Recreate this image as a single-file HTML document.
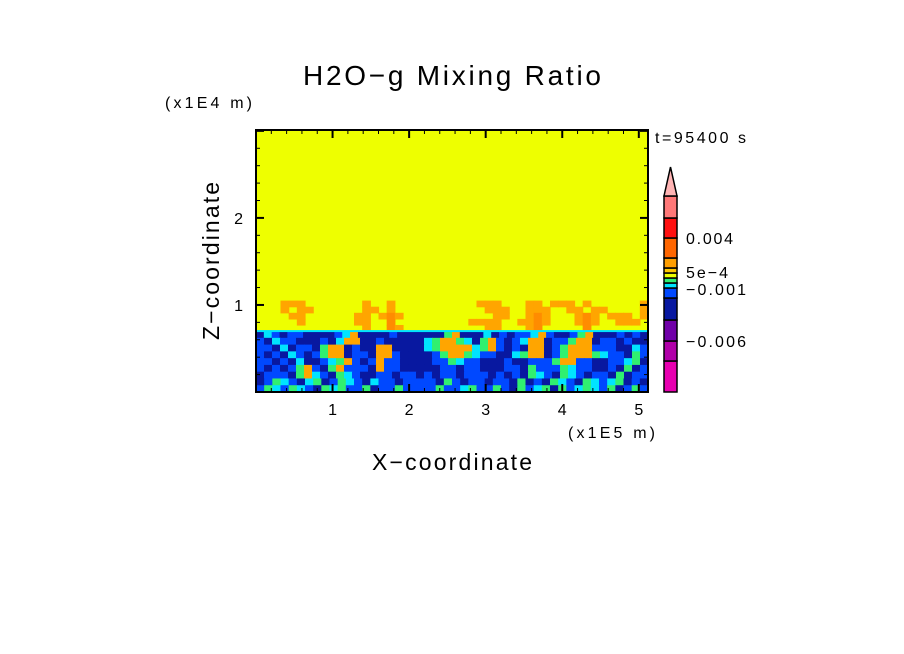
<!DOCTYPE html>
<html><head><meta charset="utf-8"><style>
body{margin:0;background:#fff;}
svg{display:block;font-family:"Liberation Sans",sans-serif;}
</style></head><body>
<svg id="chart" width="904" height="654" viewBox="0 0 904 654">
<rect width="904" height="654" fill="#fff"/>
<text x="303" y="85" font-size="28" textLength="298" lengthAdjust="spacing">H2O−g Mixing Ratio</text>
<text x="165" y="108" font-size="16" textLength="87" lengthAdjust="spacing">(x1E4 m)</text>
<text x="568" y="438" font-size="16" textLength="87" lengthAdjust="spacing">(x1E5 m)</text>
<text x="655" y="143" font-size="16" textLength="91" lengthAdjust="spacing">t=95400 s</text>
<text x="372" y="470" font-size="23" textLength="160" lengthAdjust="spacing">X−coordinate</text>
<text transform="translate(219,340) rotate(-90)" font-size="23" textLength="158" lengthAdjust="spacing">Z−coordinate</text>
<g id="field"></g><g id="axes"></g><g id="cbar"></g>
</svg>
<script>
const xTicks=[1,2,3,4,5];
const yTicks=[1,2];
const xMax=5.12, yMax=3.01;
const blueTop=0.7, plumeTop=1.05;
const colorKeys={Y:'#eeff00',o:'#ffa500',O:'#ff8c00',g:'#30f070',c:'#00e4ff',b:'#0048ff',d:'#0818a0'};
const upperRows=[
"YYYoooYYYYYYYoYYoYYYYYYYYYYoooYYYooYoooYoYYYYYYo",
"YYYoYooYYYYYYooYoYYYYYYYYYYYoooYYoooYYooYooYYYYo",
"YYYYooYYYYYYooYoOoYYYYYYYYYYYooYYoOoYYYoOoYoooYo",
"YYYYYoYYYYYYooYYOYYYYYYYYYooooYYooOoYYYoOoYYoooY",
"YYYYYYYYYYYYYoYYOoYYYYYYYYYYooYYYoOYYYYYOYYYYYYY"];
const lowerRows=[
"dcbdbbddddbcoddddbddddddgodddcdbdbbcobddbgodddbdbd",
"bdcbbdddbdcooddbdddddcgoogcdgobdbcoodbbgoodbbdbdd",
"bbdcdbbdgoodbddooddddcgoooocgobdbdoodbgooobbbddcb",
"bdbdcbdbgoodbbdoobddddbgoogcbbddcgoodbgooogcbbdgb",
"bbdbdcddbcgobdbobbddddbbgcbbdddbddbbbgoobbddbbcgd",
"bdbdbgobdgobbbdobbdddddbbdbbdddbbdgbbbgcbbddbdgdb",
"dbbbdgocbdgcbddbbdbbdbdbbdbbbdbdbdgcbdgcbdbbdgdbb",
"dbgcbdcgdbgcbdcbbdbbbbdgbdbbdbbdgdbdgcbdgcbcgdbd",
"bgcbgcbdgcgbbgdbbgbbbbgbbcgbbgbdgbcgdgbcgcbgdbgb"];
const cbColors=['#e800b0','#b000a8','#7000a8','#0818a0','#0048ff','#00e4ff','#30f070','#eeff00','#ffc800','#ff9e00','#ff6600','#ff1010','#ff7878'];
const cbBounds=[0,31,51,72,94,104,109,114,119,124,134,154,174,196];
const cbLabels=[['0.004',238,47],['5e−4',272,42],['−0.001',289,60],['−0.006',341,60]];
const L=256,R=648,T=130,B=392;
const X=v=>L+v/xMax*(R-L), Y=v=>B-v/yMax*(B-T);
const NS='http://www.w3.org/2000/svg';
function mk(p,t,a){const e=document.createElementNS(NS,t);for(const k in a)e.setAttribute(k,a[k]);p.appendChild(e);return e;}
const field=document.getElementById('field');


let bg=mk(field,'rect',{x:L,y:T,width:R-L,height:B-T,fill:colorKeys.Y});


function drawRows(rows,y0,y1){
  const h=(y1-y0)/rows.length;
  rows.forEach((row,i)=>{
    const top=y1-i*h, bot=top-h, w=xMax/row.length;
    for(let j=0;j<row.length;j++){
      if(row[j]==='Y')continue;
      const c=mk(field,'rect',{x:X(j*w),y:Y(top),width:X((j+1)*w)-X(j*w)+0.6,height:Y(bot)-Y(top)+0.6,fill:colorKeys[row[j]]});
      
      
    }
  });
}
drawRows(upperRows,blueTop,plumeTop);
drawRows(lowerRows,0,blueTop);
let edge=mk(field,'rect',{x:L,y:Y(blueTop)-1,width:R-L,height:2,fill:'#00e4ff'});


const ax=document.getElementById('axes');
let fr=mk(ax,'rect',{x:L,y:T,width:R-L,height:B-T,fill:'none',stroke:'#000','stroke-width':2});


for(let v=0.2;v<xMax;v+=0.2){const maj=Math.abs(v-Math.round(v))<1e-6;const l=maj?8:4;
  mk(ax,'line',{x1:X(v),x2:X(v),y1:B,y2:B-l,stroke:'#000','stroke-width':maj?2:1});
  mk(ax,'line',{x1:X(v),x2:X(v),y1:T,y2:T+l,stroke:'#000','stroke-width':maj?2:1});}
for(let v=0.2;v<yMax;v+=0.2){const maj=Math.abs(v-Math.round(v))<1e-6;const l=maj?8:4;
  mk(ax,'line',{y1:Y(v),y2:Y(v),x1:L,x2:L+l,stroke:'#000','stroke-width':maj?2:1});
  mk(ax,'line',{y1:Y(v),y2:Y(v),x1:R,x2:R-l,stroke:'#000','stroke-width':maj?2:1});}
xTicks.forEach(v=>{const t=mk(ax,'text',{x:X(v),y:B+23,'text-anchor':'middle','font-size':16});t.textContent=v;
  
  });
yTicks.forEach(v=>{const t=mk(ax,'text',{x:L-13,y:Y(v)+6,'text-anchor':'end','font-size':16});t.textContent=v;
  
  });
const cb=document.getElementById('cbar');


const cx=664,cw=13;
for(let i=0;i<cbColors.length;i++){
  const r=mk(cb,'rect',{x:cx,y:B-cbBounds[i+1],width:cw,height:cbBounds[i+1]-cbBounds[i],fill:cbColors[i],stroke:'#000','stroke-width':1.5});
  
  
}
let tri=mk(cb,'polygon',{points:`${cx},${B-cbBounds[13]} ${cx+cw},${B-cbBounds[13]} ${cx+cw/2},${B-225}`,fill:'#ffb4b4',stroke:'#000','stroke-width':1.5});


cbLabels.forEach(([s,y,w])=>{const t=mk(cb,'text',{x:686,y:y+6,'font-size':16,textLength:w,lengthAdjust:'spacing'});t.textContent=s;
  
  });
</script>
</body></html>
